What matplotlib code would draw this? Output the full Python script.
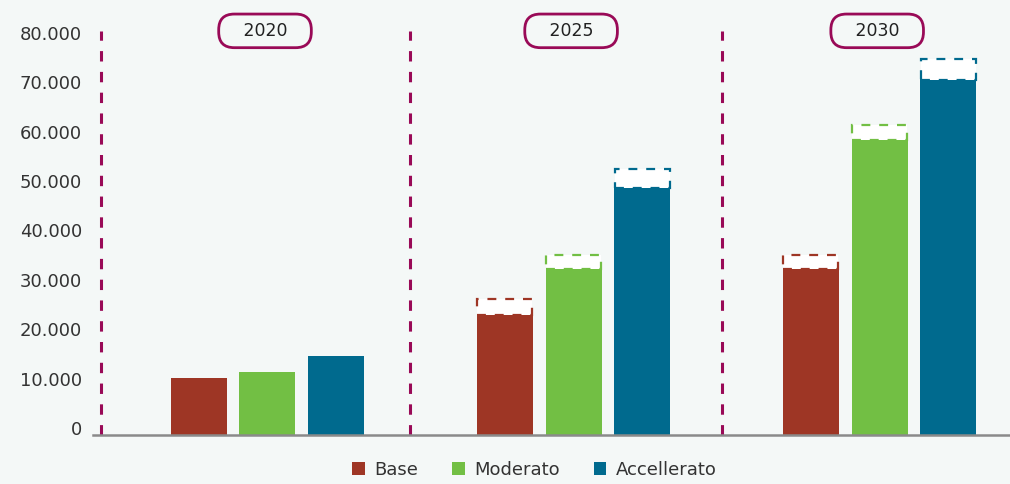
import matplotlib.pyplot as plt
from matplotlib.patches import Patch
from matplotlib.ticker import FuncFormatter

years = ['2020', '2025', '2030']
series = ['Base', 'Moderato', 'Accellerato']
colors = ['#9e3625', '#72bf44', '#006a8e']

base = [11500, 24800, 34100]
moderato = [12750, 34100, 60300]
accellerato = [16000, 50600, 72500]

# upper range (dashed part), None where there is no range
base_hi = [None, 27500, 36400]
moderato_hi = [None, 36400, 62800]
accellerato_hi = [None, 53800, 76100]

yticks = [0, 10000, 20000, 30000, 40000, 50000, 60000, 70000, 80000]

bg = '#f4f8f7'
accent = '#990a57'

fig = plt.figure(figsize=(10.1, 4.84), dpi=100, facecolor=bg)
ax = fig.add_axes([93 / 1010, 49 / 484, 1 - 93 / 1010, 415 / 484])
ax.set_facecolor(bg)

offsets = [-0.225, 0.0, 0.225]
width = 0.183
values = [base, moderato, accellerato]
highs = [base_hi, moderato_hi, accellerato_hi]

for i in range(len(series)):
    xs = [g + offsets[i] for g in range(len(years))]
    ax.bar(xs, values[i], width=width, color=colors[i], zorder=3)
    for x, lo, hi in zip(xs, values[i], highs[i]):
        if hi is None:
            continue
        ax.bar(x, hi - lo + 600, bottom=lo - 600, width=width - 0.004,
               facecolor='white', edgecolor=colors[i], linewidth=1.6,
               linestyle=(0, (4, 4)), zorder=4)

# separators between groups
for sx in [-0.545, 0.465, 1.485]:
    ax.plot([sx, sx], [0, 81800], color=accent, lw=2.2,
            linestyle=(0, (3.4, 3.4)), zorder=2, clip_on=False)

# year boxes
for g, yr in enumerate(years):
    ax.text(g - 0.008, 81800, f'   {yr}   ', ha='center', va='center', fontsize=12.5,
            color='#222222',
            bbox=dict(boxstyle='round,pad=0.45,rounding_size=0.9',
                      facecolor=bg, edgecolor=accent, linewidth=2))

ax.set_xlim(-0.57, 2.426)
ax.set_ylim(0, 84000)
ax.set_xticks([])
ax.set_yticks(yticks)
ax.yaxis.set_major_formatter(FuncFormatter(lambda v, p: f'{int(v):,}'.replace(',', '.')))
ax.tick_params(axis='y', length=0, pad=8, labelsize=13, labelcolor='#333333')
for lab in ax.get_yticklabels():
    lab.set_verticalalignment('baseline')

for s in ['top', 'right', 'left']:
    ax.spines[s].set_visible(False)
ax.spines['bottom'].set_color('#8a8a8a')
ax.spines['bottom'].set_linewidth(1.8)
ax.spines['bottom'].set_zorder(5)

handles = [Patch(facecolor=c, label=s) for c, s in zip(colors, series)]
fig.legend(handles=handles, loc='center', bbox_to_anchor=(0.529, 0.029), ncol=3,
           frameon=False, fontsize=13, handlelength=0.7, handleheight=0.7,
           handletextpad=0.5, columnspacing=1.9, labelcolor='#333333')

fig.savefig('out.png', dpi=100, facecolor=bg)
